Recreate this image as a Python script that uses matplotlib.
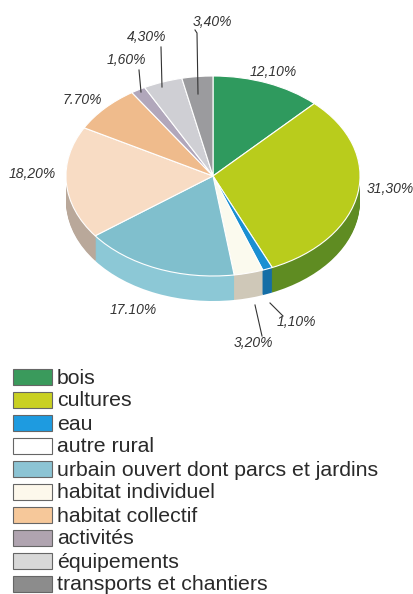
import matplotlib.pyplot as plt
from matplotlib.patches import Rectangle

categories = ['bois', 'cultures', 'eau', 'autre rural',
              'urbain ouvert dont parcs et jardins', 'habitat individuel',
              'habitat collectif', 'activités', 'équipements',
              'transports et chantiers']
shares = [12.1, 31.3, 1.1, 3.2, 17.1, 18.2, 7.7, 1.6, 4.3, 3.4]
pct_labels = ['12,10%', '31,30%', '1,10%', '3,20%', '17.10%', '18,20%',
              '7.70%', '1,60%', '4,30%', '3,40%']

top_colors = ['#2f9a5e', '#b9cc1c', '#1a8fd2', '#fbfaee', '#80bfcd',
              '#f8dcc4', '#efbb8c', '#b1a7bb', '#cfcfd4', '#9b9b9e']
side_colors = ['#246e44', '#5f8c22', '#156ea6', '#cfc8b8', '#8cc8d6',
               '#b9a89a', '#c49670', '#8a8090', '#a8a8ac', '#7a7a7c']
legend_colors = ['#3a9a5c', '#c9d022', '#1e9be0', '#ffffff', '#8cc4d4',
                 '#fdf8ec', '#f6c89a', '#b0a4b0', '#d8d8d8', '#8c8c8c']

# layout in pixels of the 414x594 image
W, H = 414, 594
CX, CY, RX, RY, DEPTH = 213, 176, 147, 100, 25
label_pos = [(273, 72), (390, 189), (296, 322), (253, 343), (133, 310),
             (32, 174), (82, 100), (126, 60), (147, 37), (212, 22)]
leaders = {2: [(283, 316), (270, 303)], 3: [(262, 336), (255, 305)],
           7: [(139, 70), (141, 92)], 8: [(161, 47), (162, 87)],
           9: [(195, 30), (197, 33), (198, 94)]}


def to_data(px, py):
    return (px - CX) / RX, (CY - py) / RY


fig = plt.figure(figsize=(W / 100, H / 100), dpi=100)
ax = fig.add_axes([0, 0, 1, 1])

# side of the pie: stacked layers, then the top face
for k in range(DEPTH, 0, -1):
    ax.pie(shares, colors=side_colors, startangle=90, counterclock=False,
           center=(0, -k / RY), wedgeprops=dict(linewidth=0))
ax.pie(shares, colors=top_colors, startangle=90, counterclock=False,
       wedgeprops=dict(edgecolor='white', linewidth=0.8))

for (px, py), s in zip(label_pos, pct_labels):
    ax.text(*to_data(px, py), s, ha='center', va='center', fontsize=10,
            style='italic', color='#333333', family='Liberation Sans')

for pts in leaders.values():
    xs, ys = zip(*[to_data(*p) for p in pts])
    ax.plot(xs, ys, color='#333333', lw=0.8)

# legend
for i, (name, col) in enumerate(zip(categories, legend_colors)):
    yc = 377 + i * 23.0
    x0, y0 = to_data(13, yc + 8)
    ax.add_patch(Rectangle((x0, y0), 39 / RX, 16 / RY, facecolor=col,
                           edgecolor='#666666', lw=0.8))
    ax.text(*to_data(57, yc + 1), name, ha='left', va='center', fontsize=15.3,
            color='#2a2a2a', family='Liberation Sans')

ax.set_xlim(-CX / RX, (W - CX) / RX)
ax.set_ylim((CY - H) / RY, CY / RY)
ax.set_aspect('auto')
ax.axis('off')

fig.savefig('out.png', dpi=100, facecolor='white')
